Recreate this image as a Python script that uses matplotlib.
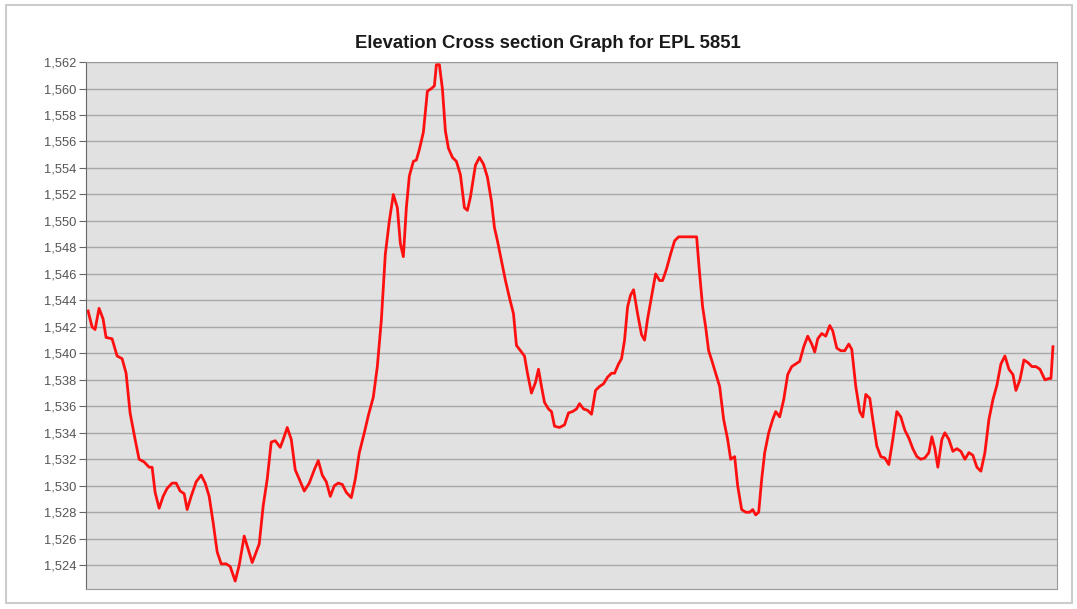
import matplotlib
matplotlib.use("Agg")
import matplotlib.pyplot as plt
from matplotlib.ticker import FuncFormatter
from matplotlib.patches import Rectangle

# distance along the section (arbitrary units) and elevation (m)
dist = [2, 6, 9, 13, 17, 20, 26, 31, 36, 40,
        44, 49, 53, 58, 63, 66, 69, 73, 77, 81,
        86, 90, 94, 98, 101, 105, 110, 115, 119, 123,
        127, 131, 135, 140, 144, 149, 153, 158, 162, 166,
        169, 173, 177, 181, 185, 189, 194, 197, 201, 205,
        209, 213, 218, 223, 228, 232, 236, 240, 244, 248,
        252, 256, 260, 265, 269, 273, 278, 282, 287, 291,
        295, 299, 303, 307, 311, 314, 317, 320, 323, 327,
        330, 333, 337, 341, 345, 348, 350, 353, 356, 359,
        362, 366, 370, 374, 378, 381, 384, 389, 393, 397,
        401, 405, 408, 411, 415, 419, 423, 427, 430, 434,
        438, 441, 445, 449, 452, 455, 458, 462, 465, 468,
        473, 478, 482, 486, 490, 493, 497, 501, 505, 509,
        513, 517, 521, 525, 528, 532, 535, 538, 541, 544,
        547, 551, 555, 558, 561, 565, 569, 573, 576, 580,
        584, 588, 592, 596, 601, 606, 610, 613, 616, 619,
        622, 625, 629, 633, 637, 641, 644, 648, 651, 655,
        659, 663, 666, 669, 672, 675, 678, 682, 686, 689,
        693, 697, 701, 705, 709, 713, 717, 721, 725, 728,
        731, 735, 739, 743, 746, 750, 754, 758, 762, 765,
        769, 773, 776, 779, 783, 786, 790, 794, 798, 802,
        806, 810, 814, 818, 822, 826, 830, 834, 838, 842,
        845, 848, 851, 855, 858, 862, 866, 870, 874, 878,
        882, 886, 890, 894, 898, 902, 906, 910, 914, 918,
        922, 926, 929, 933, 937, 941, 945, 949, 953, 958,
        962, 964, 966]
elev = [1543.2, 1542.0, 1541.8, 1543.4, 1542.6, 1541.2, 1541.1, 1539.8, 1539.6, 1538.5,
        1535.5, 1533.5, 1532.0, 1531.8, 1531.4, 1531.4, 1529.5, 1528.3, 1529.2, 1529.8,
        1530.2, 1530.2, 1529.6, 1529.4, 1528.2, 1529.2, 1530.3, 1530.8, 1530.2, 1529.2,
        1527.2, 1525.0, 1524.1, 1524.1, 1523.9, 1522.8, 1524.0, 1526.2, 1525.2, 1524.2,
        1524.8, 1525.6, 1528.5, 1530.5, 1533.3, 1533.4, 1532.9, 1533.5, 1534.4, 1533.5,
        1531.2, 1530.5, 1529.6, 1530.2, 1531.2, 1531.9, 1530.8, 1530.3, 1529.2, 1530.0,
        1530.2, 1530.1, 1529.5, 1529.1, 1530.5, 1532.5, 1534.0, 1535.3, 1536.7, 1539.0,
        1542.5, 1547.5, 1550.0, 1552.0, 1551.0, 1548.3, 1547.3, 1551.0, 1553.4, 1554.5,
        1554.6, 1555.4, 1556.7, 1559.8, 1560.0, 1560.2, 1561.8, 1561.8, 1560.0, 1556.8,
        1555.5, 1554.8, 1554.5, 1553.5, 1551.0, 1550.8, 1551.8, 1554.2, 1554.8, 1554.3,
        1553.3, 1551.5, 1549.5, 1548.5, 1547.0, 1545.5, 1544.2, 1543.0, 1540.6, 1540.2,
        1539.8, 1538.5, 1537.0, 1537.8, 1538.8, 1537.5, 1536.3, 1535.8, 1535.6, 1534.5,
        1534.4, 1534.6, 1535.5, 1535.6, 1535.8, 1536.2, 1535.8, 1535.7, 1535.4, 1537.2,
        1537.5, 1537.7, 1538.2, 1538.5, 1538.5, 1539.2, 1539.6, 1541.0, 1543.5, 1544.4,
        1544.8, 1543.0, 1541.4, 1541.0, 1542.6, 1544.3, 1546.0, 1545.5, 1545.5, 1546.4,
        1547.5, 1548.5, 1548.8, 1548.8, 1548.8, 1548.8, 1548.8, 1546.0, 1543.5, 1542.0,
        1540.2, 1539.5, 1538.5, 1537.5, 1535.0, 1533.5, 1532.0, 1532.2, 1530.0, 1528.2,
        1528.0, 1528.0, 1528.2, 1527.8, 1528.0, 1530.5, 1532.5, 1534.0, 1535.0, 1535.6,
        1535.2, 1536.5, 1538.4, 1539.0, 1539.2, 1539.4, 1540.5, 1541.3, 1540.7, 1540.1,
        1541.1, 1541.5, 1541.3, 1542.1, 1541.7, 1540.4, 1540.2, 1540.2, 1540.7, 1540.3,
        1537.5, 1535.6, 1535.2, 1536.9, 1536.6, 1535.0, 1533.0, 1532.2, 1532.1, 1531.6,
        1533.5, 1535.6, 1535.2, 1534.2, 1533.6, 1532.8, 1532.2, 1532.0, 1532.1, 1532.5,
        1533.7, 1532.8, 1531.4, 1533.5, 1534.0, 1533.5, 1532.6, 1532.8, 1532.6, 1532.0,
        1532.5, 1532.3, 1531.4, 1531.1, 1532.5, 1535.0, 1536.5, 1537.6, 1539.2, 1539.8,
        1538.8, 1538.4, 1537.2, 1538.0, 1539.5, 1539.3, 1539.0, 1539.0, 1538.8, 1538.0,
        1538.1, 1538.1, 1540.5]
yticks = list(range(1524, 1563, 2))

plt.rcParams["font.family"] = ["Liberation Sans", "DejaVu Sans"]

fig = plt.figure(figsize=(10.77, 6.09), dpi=100)
fig.patches.append(Rectangle((0.006, 0.01), 0.989, 0.982, transform=fig.transFigure,
                             fill=False, edgecolor="#cccccc", linewidth=1.5))
ax = fig.add_axes([0.0799, 0.0328, 0.9015, 0.8653])
ax.set_facecolor("#e1e1e1")

ax.plot(dist, elev, color="#ff1010", linewidth=2)

ax.set_xlim(0, 970)
ax.set_ylim(1522.2, 1562)
ax.set_yticks(yticks)
ax.yaxis.set_major_formatter(FuncFormatter(lambda v, p: "{:,.0f}".format(v)))
ax.set_xticks([])
ax.tick_params(axis="y", labelsize=9.3, labelcolor="#555555", color="#666666", length=5, pad=2)
ax.grid(axis="y", color="#a8a8a8", linewidth=1)
ax.set_axisbelow(True)
for side in ["top", "right", "bottom"]:
    ax.spines[side].set_color("#999999")
ax.spines["left"].set_color("#666666")

fig.text(0.509, 0.928, "Elevation Cross section Graph for EPL 5851", ha="center", va="center",
         fontsize=13.3, fontweight="bold", color="#1a1a1a")

fig.savefig("out.png", dpi=100)
